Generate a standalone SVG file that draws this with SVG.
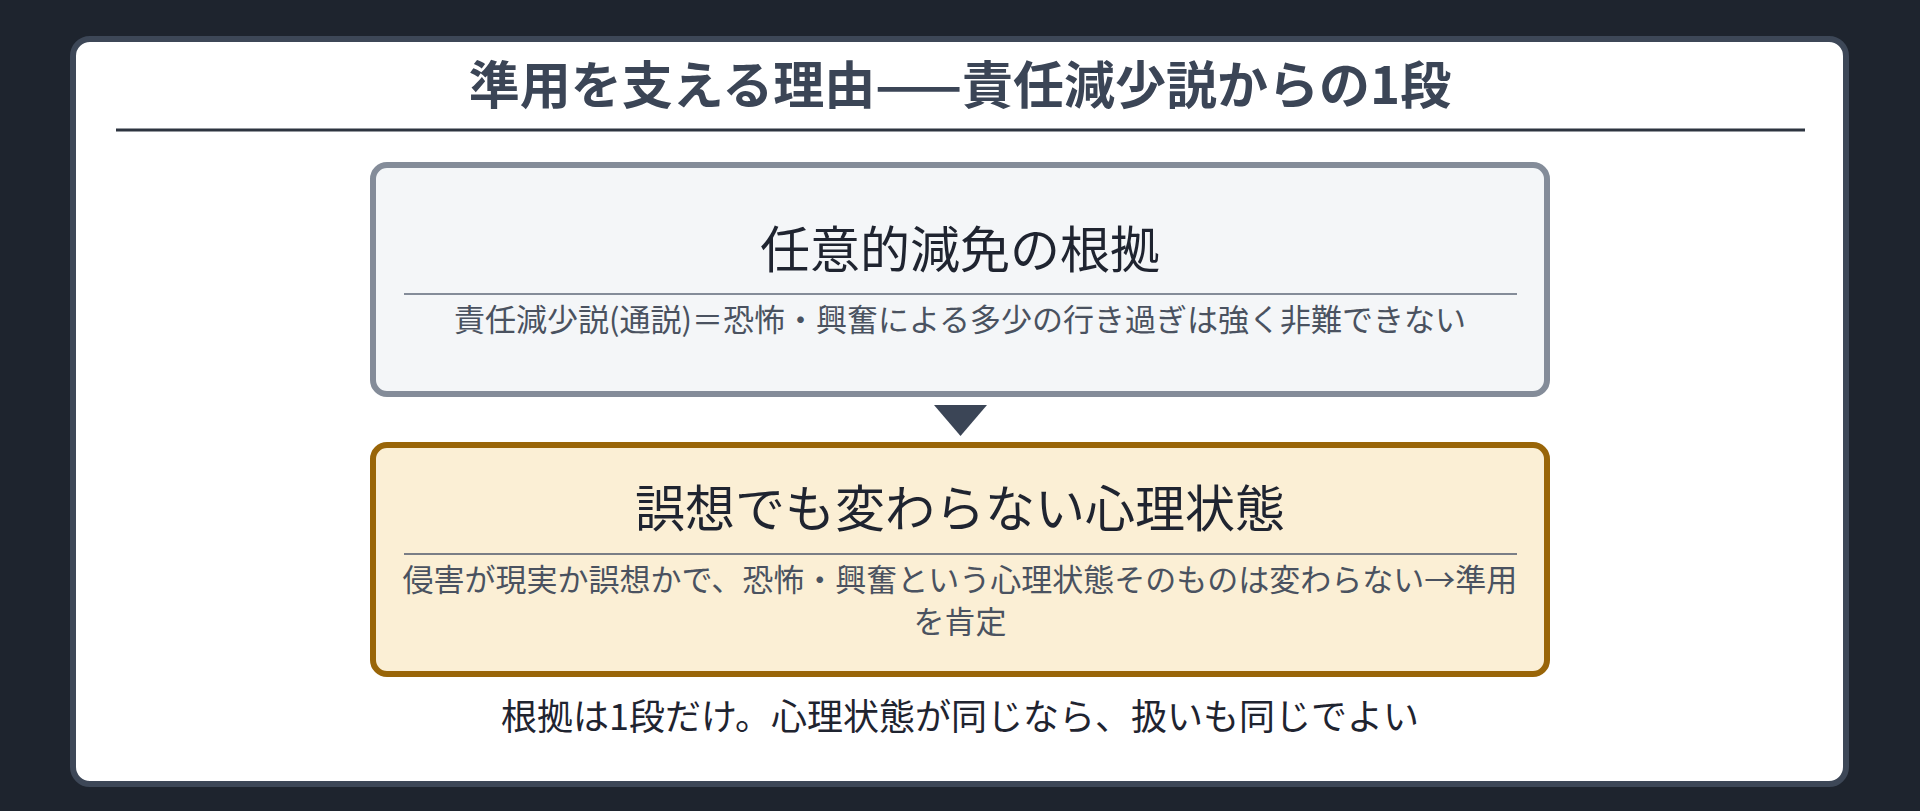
<svg xmlns="http://www.w3.org/2000/svg" width="1920" height="811" viewBox="0 0 1920 811">
  <style>
    text { font-family: "Noto Sans CJK JP", "Noto Sans", sans-serif; text-anchor: middle; }
    .title { font-size: 51px; font-weight: 700; fill: #3b4556; }
    .head { font-size: 50px; fill: #1f2430; }
    .sub { font-size: 31px; fill: #4a5260; }
    .foot { font-size: 36px; fill: #1f2430; }
    .box1 { fill: #f4f6f8; stroke: #848c99; stroke-width: 6; }
    .box2 { fill: #fbefd5; stroke: #996508; stroke-width: 6; }
    .sep1 { stroke: #848c99; stroke-width: 2; }
    .sep2 { stroke: #7a7e86; stroke-width: 2; }
  </style>
  <rect x="0" y="0" width="1920" height="811" fill="#1e242e"/>
  <rect x="73" y="39" width="1773" height="745" rx="17" ry="17" fill="#ffffff" stroke="#3d4757" stroke-width="6"/>
  <g id="title">
    <text class="title" x="960" y="104">準用を支える理由——責任減少説からの1段</text>
    <line x1="116" y1="130" x2="1805" y2="130" stroke="#2d3440" stroke-width="3"/>
  </g>
  <g id="node-basis">
    <rect class="box1" x="373" y="165" width="1174" height="229" rx="14" ry="14"/>
    <text class="head" x="960" y="268">任意的減免の根拠</text>
    <line class="sep1" x1="404" y1="294" x2="1517" y2="294"/>
    <text class="sub" x="960" y="331">責任減少説(通説)＝恐怖・興奮による多少の行き過ぎは強く非難できない</text>
  </g>
  <g id="connectors">
    <polygon points="934,405 987,405 960.5,436" fill="#3b4556"/>
  </g>
  <g id="node-state">
    <rect class="box2" x="373" y="445" width="1174" height="229" rx="14" ry="14"/>
    <text class="head" x="960" y="527">誤想でも変わらない心理状態</text>
    <line class="sep2" x1="404" y1="554" x2="1517" y2="554"/>
    <text class="sub" x="960" y="591">侵害が現実か誤想かで、恐怖・興奮という心理状態そのものは変わらない→準用</text>
    <text class="sub" x="960" y="633">を肯定</text>
  </g>
  <g id="footer">
    <text class="foot" x="960" y="730">根拠は1段だけ。心理状態が同じなら、扱いも同じでよい</text>
  </g>
</svg>
